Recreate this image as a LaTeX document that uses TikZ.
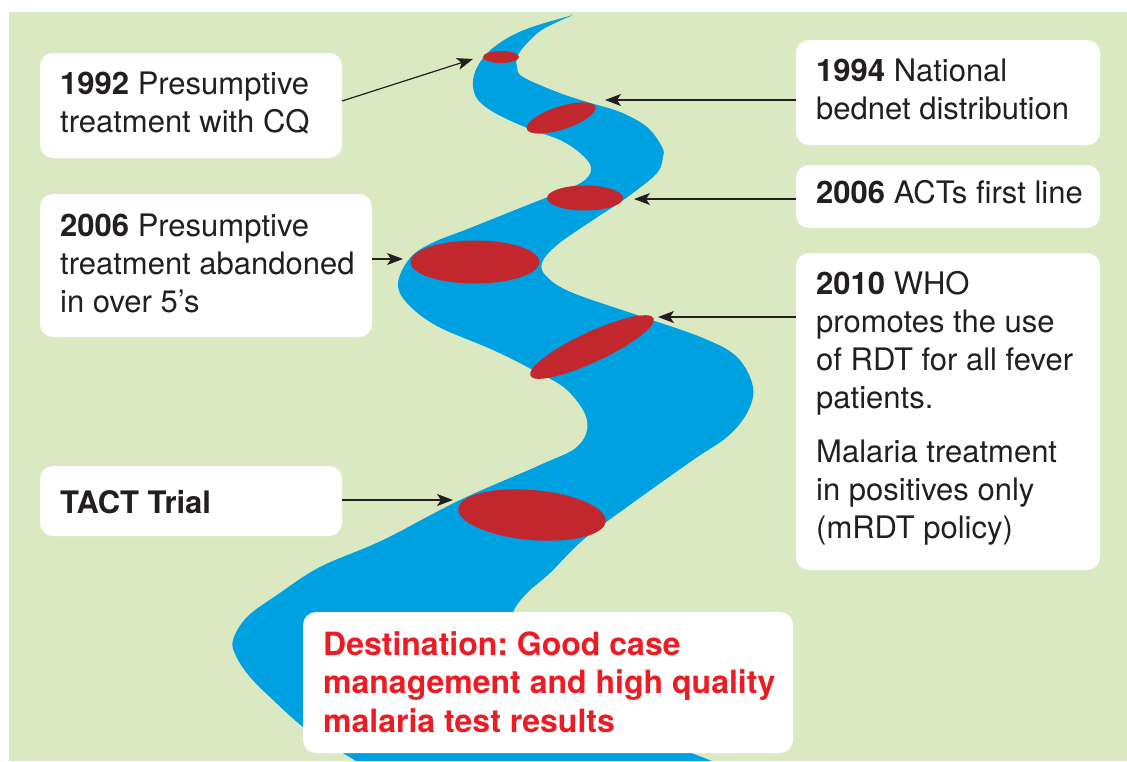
\documentclass[tikz,border=0pt]{standalone}
\usepackage{fontspec}
\setmainfont{TeX Gyre Heros}
\usetikzlibrary{arrows.meta}
\definecolor{bg}{HTML}{DBE9C3}
\definecolor{riverblue}{HTML}{00A1E0}
\definecolor{spot}{HTML}{C1272D}
\definecolor{ink}{HTML}{231F20}
\definecolor{dest}{HTML}{ED1C24}
\frenchspacing
\begin{document}
\begin{tikzpicture}[x=1pt,y=-1pt,
  box/.style={fill=white, rounded corners=13pt, anchor=north west, inner sep=0pt, outer sep=0pt},
  txt/.style={anchor=base west, inner sep=0pt, align=left, text=ink, font=\fontsize{31}{38}\selectfont},
  desttxt/.style={txt, text=dest, font=\fontsize{32}{38.5}\selectfont\bfseries},
  arr/.style={draw=ink, line width=1.2pt, -{Stealth[length=16pt,width=12pt,inset=4pt]}},
]
\useasboundingbox (0,0) rectangle (1127,761);
\fill[white] (0,0) rectangle (1127,761);
\fill[bg] (9,12) rectangle (1127,761);

% river
\fill[riverblue] plot[smooth, tension=0.6] coordinates {(573,15) (535,26) (513,35) (494,47) (483,58) (475,72) (473,86) (478,100) (495,113) (527,128) (560,140) (580,153) (591,167) (585,180) (563,191) (530,204) (470,228) (432,243) (410,258) (398,283) (407,303) (437,326) (493,350) (533,370) (567,390) (587,420) (578,446) (540,465) (460,500) (383,540) (320,567) (277,595) (247,617) (233,640) (236,656) (250,677) (273,700) (303,727) (330,745) (356,761)}
 -- (712,761) -- plot[smooth, tension=0.6] coordinates {(712,761) (600,715) (520,670) (505,640) (513,612) (527,593) (550,573) (583,540) (627,507) (693,460) (727,437) (747,413) (753,387) (737,357) (703,338) (643,317) (573,293) (547,277) (542,263) (557,245) (593,220) (613,207) (633,193) (657,173) (663,157) (662,147) (647,127) (620,112) (587,102) (557,92) (523,77) (517,67) (518,55) (530,40) (545,28) (573,15)} -- cycle;

% stepping stones
\fill[spot] (501,57) ellipse [x radius=18pt, y radius=6pt];
\fill[spot, rotate around={18:(561,118)}] (561,118) ellipse [x radius=36pt, y radius=11.5pt];
\fill[spot] (585,198) ellipse [x radius=38pt, y radius=12.5pt];
\fill[spot] (475,262) ellipse [x radius=64.5pt, y radius=21.5pt];
\fill[spot, rotate around={25:(592,347)}] (592,347) ellipse [x radius=68pt, y radius=15pt];
\fill[spot, rotate around={-5:(532,515)}] (532,515) ellipse [x radius=74pt, y radius=25pt];

% boxes
\node[box, minimum width=302pt, minimum height=105pt] (b1) at (40,53) {};
\node[box, minimum width=332pt, minimum height=143pt] (b2) at (40,194) {};
\node[box, minimum width=302pt, minimum height=70pt] (b3) at (40,466) {};
\node[box, minimum width=304pt, minimum height=105pt] (b4) at (796,40) {};
\node[box, minimum width=304pt, minimum height=63pt] (b5) at (796,165) {};
\node[box, minimum width=304pt, minimum height=317pt] (b6) at (796,253) {};
\node[box, minimum width=490pt, minimum height=141pt] (b7) at (303,612) {};

% texts (anchored at the baseline of their last line)
\node[txt] (t1) at (60,132) {\textbf{1992} Presumptive\\treatment with CQ};
\node[txt] (t2) at (60,312) {\textbf{2006} Presumptive\\treatment abandoned\\in over 5’s};
\node[txt] (t3) at (60,513) {\textbf{TACT Trial}};
\node[txt] (t4) at (816,119) {\textbf{1994} National\\bednet distribution};
\node[txt] (t5) at (816,203) {\textbf{2006} ACTs first line};
\node[txt] (t6) at (816,538) {\textbf{2010} WHO\\promotes the use\\of RDT for all fever\\patients.\\[16pt]Malaria treatment\\in positives only\\(mRDT policy)};
\node[desttxt] (t7) at (323,732) {Destination: Good case\\management and high quality\\malaria test results};

% arrows
\coordinate (p1) at (473,59);
\coordinate (p2) at (605,100);
\coordinate (p3) at (634,199);
\coordinate (p4) at (403,259);
\coordinate (p5) at (658,317);
\coordinate (p6) at (453,500);
\draw[arr] ([yshift=4.5pt]b1.east) -- (p1);
\draw[arr] (b4.west |- p2) -- (p2);
\draw[arr] (b5.west |- p3) -- (p3);
\draw[arr] (b2.east |- p4) -- (p4);
\draw[arr] (b6.west |- p5) -- (p5);
\draw[arr] (b3.east |- p6) -- (p6);
\end{tikzpicture}
\end{document}
